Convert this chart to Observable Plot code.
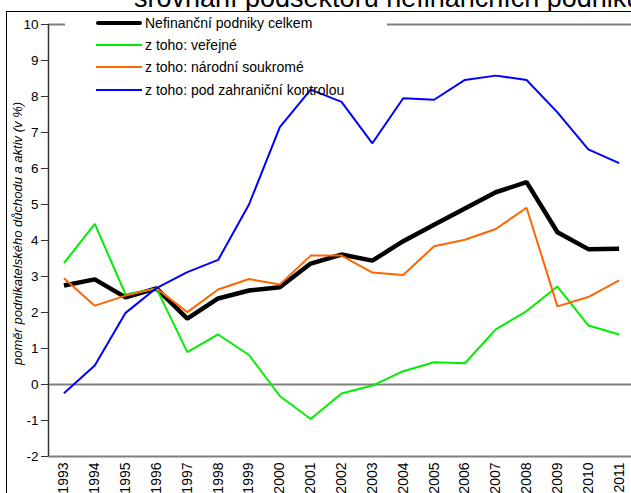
<!DOCTYPE html>
<html>
<head>
<meta charset="utf-8">
<script src="https://cdn.jsdelivr.net/npm/d3@7"></script>
<script src="https://cdn.jsdelivr.net/npm/@observablehq/plot@0.6"></script>
<style>
  html, body { margin: 0; padding: 0; background: #fff; }
  #wrap { position: relative; width: 631px; height: 493px; overflow: hidden; font-family: "Liberation Sans", Arial, sans-serif; }
  #title { position: absolute; left: 134px; top: -15px; font-size: 27px; line-height: 27px; white-space: nowrap; color: #000; }
  #frame { position: absolute; left: 6px; top: 11px; width: 2000px; height: 2000px; border: 1.5px solid #000; box-sizing: border-box; background: #fff; }
  #chart { position: absolute; left: 0; top: 0; }
  #gap { position: absolute; left: 65px; top: 21px; width: 322px; height: 6px; background: #fff; }
  #legend { position: absolute; left: 96px; top: 12px; font-size: 14px; color: #000; }
  .row { height: 22.2px; display: flex; align-items: center; white-space: nowrap; }
  .sw { display: inline-block; width: 46px; margin-right: 3px; }
</style>
</head>
<body>
<div id="wrap">
  <div id="title">srovnání podsektorů nefinančních podniků</div>
  <div id="frame"></div>
  <div id="chart"></div>
  <div id="gap"></div>
  <div id="legend"></div>
</div>
<script>
const years = [1993, 1994, 1995, 1996, 1997, 1998, 1999, 2000, 2001, 2002, 2003, 2004, 2005, 2006, 2007, 2008, 2009, 2010, 2011];
const total   = [2.75, 2.92, 2.42, 2.67, 1.83, 2.39, 2.61, 2.70, 3.36, 3.61, 3.44, 3.98, 4.44, 4.89, 5.34, 5.62, 4.23, 3.76, 3.77];
const verejne = [3.37, 4.46, 2.50, 2.67, 0.90, 1.39, 0.82, -0.32, -0.96, -0.25, -0.03, 0.37, 0.62, 0.59, 1.53, 2.04, 2.72, 1.64, 1.39];
const soukrome = [2.95, 2.19, 2.47, 2.67, 2.01, 2.64, 2.93, 2.78, 3.58, 3.58, 3.11, 3.04, 3.84, 4.02, 4.32, 4.91, 2.17, 2.43, 2.89];
const zahranicni = [-0.24, 0.53, 1.99, 2.68, 3.12, 3.46, 5.00, 7.15, 8.19, 7.85, 6.70, 7.95, 7.91, 8.46, 8.58, 8.46, 7.56, 6.53, 6.15];
const yTicks = [-2, -1, 0, 1, 2, 3, 4, 5, 6, 7, 8, 9, 10];
const seriesNames = ["Nefinanční podniky celkem", "z toho: veřejné", "z toho: národní soukromé", "z toho: pod zahraniční kontrolou"];
const yLabel = "poměr podnikatelského důchodu a aktiv (v %)";

const colors = ["#000000", "#00ee00", "#ff6600", "#0000ff"];
const widths = [4.5, 2, 2, 2];
const values = [total, verejne, soukrome, zahranicni];

const mk = (arr) => years.map((y, i) => ({year: y, v: arr[i]}));

const step = (618.7 - 63.5) / 18;
const chart = Plot.plot({
  width: 631,
  height: 493,
  marginLeft: 48,
  marginRight: 0,
  marginTop: 24,
  marginBottom: 37,
  style: {fontFamily: "'Liberation Sans', Arial, sans-serif", fontSize: "13px", color: "#000", background: "transparent", overflow: "visible"},
  x: {type: "linear", domain: [years[0] - 0.5, years[years.length - 1] + 0.5], range: [48, 48 + 19 * step]},
  y: {domain: [-2, 10]},
  marks: [
    Plot.ruleY([10, 0, -2], {stroke: "#808080", strokeWidth: 2}),
    Plot.ruleX([years[0] - 0.5], {y1: -2, y2: 10, stroke: "#333", strokeWidth: 1.5}),
    Plot.axisY({ticks: yTicks, tickFormat: d => String(d), tickSize: 7, tickPadding: 3, fontSize: 13.5, label: null, stroke: "#333"}),
    Plot.axisX({ticks: years, tickFormat: d => String(d), tickRotate: -90, tickSize: 0, tickPadding: 6, fontSize: 14, label: null}),
    ...values.map((arr, i) => Plot.line(mk(arr), {x: "year", y: "v", stroke: colors[i], strokeWidth: widths[i], strokeLinejoin: "miter", strokeLinecap: "butt"})),
    Plot.text([yLabel], {frameAnchor: "left", textAnchor: "middle", rotate: -90, dx: -31, dy: -7, fontSize: 13, fontStyle: "italic", fill: "#000"})
  ]
});
document.getElementById("chart").appendChild(chart);

const legend = document.getElementById("legend");
seriesNames.forEach((name, i) => {
  const row = document.createElement("div");
  row.className = "row";
  const sw = document.createElement("span");
  sw.className = "sw";
  sw.style.height = (i === 0 ? 4.5 : 2) + "px";
  sw.style.background = colors[i];
  sw.style.borderRadius = i === 0 ? "2px" : "0";
  row.appendChild(sw);
  const t = document.createElement("span");
  t.textContent = name;
  row.appendChild(t);
  legend.appendChild(row);
});
</script>
</body>
</html>
